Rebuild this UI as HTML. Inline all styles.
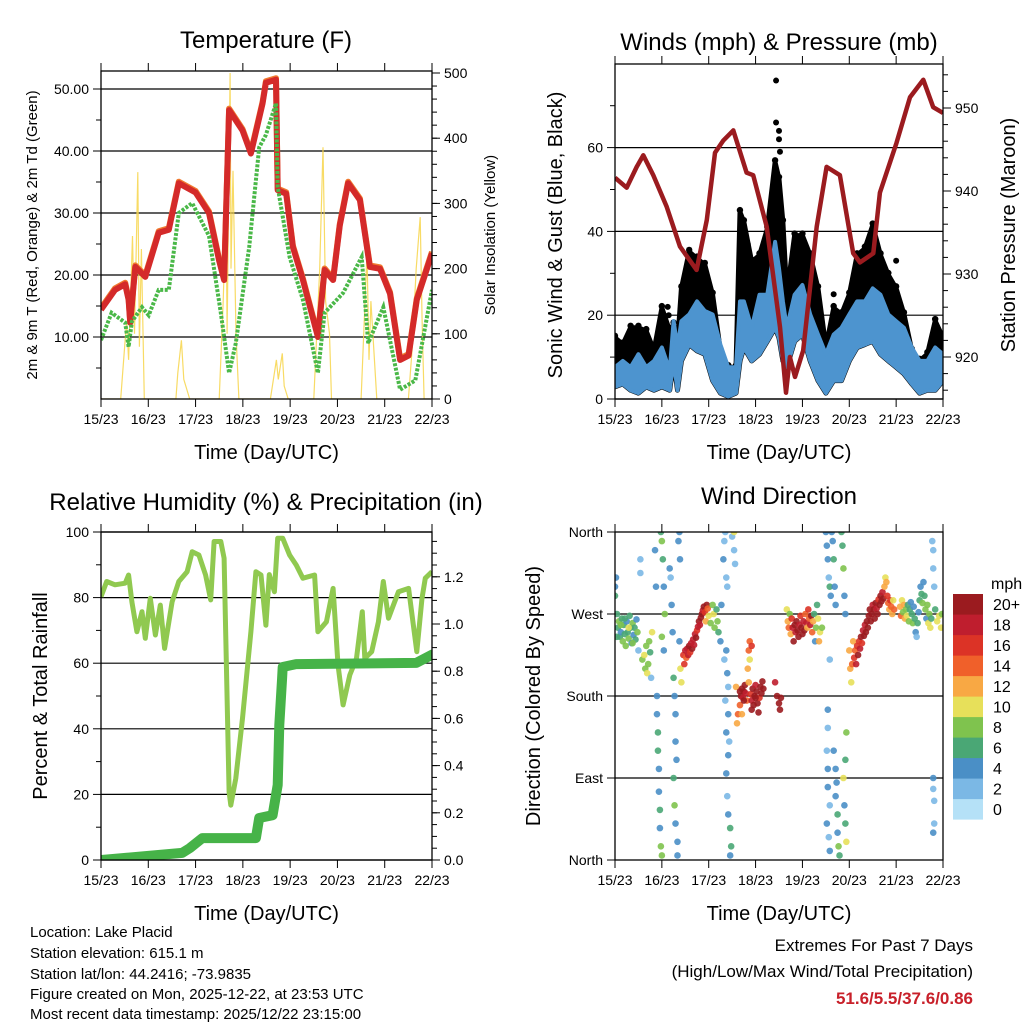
<!DOCTYPE html>
<html><head><meta charset="utf-8"><style>
html,body{margin:0;padding:0;background:#fff;}
svg{display:block;font-family:"Liberation Sans",sans-serif;}
</style></head><body>
<svg id="chart" width="1024" height="1024" viewBox="0 0 1024 1024" xmlns="http://www.w3.org/2000/svg">
<defs>
<clipPath id="c1"><rect x="101" y="71" width="331" height="328"/></clipPath>
<clipPath id="c2"><rect x="615" y="64" width="328" height="335"/></clipPath>
<clipPath id="c3"><rect x="101" y="532" width="331" height="328"/></clipPath>
<clipPath id="c4"><rect x="615" y="532" width="328" height="328"/></clipPath>
</defs>
<text x="266" y="48" font-size="24" text-anchor="middle">Temperature (F)</text>
<text x="779" y="50" font-size="24" text-anchor="middle">Winds (mph) &amp; Pressure (mb)</text>
<text x="266" y="510" font-size="24" text-anchor="middle">Relative Humidity (%) &amp; Precipitation (in)</text>
<text x="779" y="504" font-size="24" text-anchor="middle">Wind Direction</text>
<g font-size="15">
<text x="30" y="937">Location: Lake Placid</text>
<text x="30" y="958">Station elevation: 615.1 m</text>
<text x="30" y="979">Station lat/lon: 44.2416; -73.9835</text>
<text x="30" y="999">Figure created on Mon, 2025-12-22, at 23:53 UTC</text>
<text x="30" y="1019">Most recent data timestamp: 2025/12/22 23:15:00</text>
</g>
<g font-size="17" text-anchor="end">
<text x="973" y="951">Extremes For Past 7 Days</text>
<text x="973" y="977">(High/Low/Max Wind/Total Precipitation)</text>
<text x="973" y="1004" fill="#c8202a" font-weight="bold">51.6/5.5/37.6/0.86</text>
</g>
</svg>
<script>
// ---- data ----
const dayLabels=["15/23","16/23","17/23","18/23","19/23","20/23","21/23","22/23"];
const tempHours=[0,7.1,12.3,14,14.8,17.4,22.5,29.3,34.4,39.5,48,54.8,59.9,62.5,65,71.8,76.1,82,83.7,88.8,89.7,94,97.4,102.5,110.1,113.5,117.8,121.2,125.4,131.4,136.5,141.6,146.7,151.8,156.1,160.3,168];
const tempVals=[14.4,17.6,18.5,16,12.3,21.3,19.7,26.8,27.3,34.8,33.3,30,22.4,19.2,46.6,43.3,39.6,47.7,51,51.5,33.7,33.1,24.5,19.2,10,20.8,19.2,28,34.8,32.1,21.3,21,17,6.3,7,16,23.5];
const dewHours=[0,5.4,12.3,14,15.7,20.8,24.2,29.3,34.4,39.5,46.3,54.8,60.8,65,68.4,75.2,80.3,83.7,88.8,89.7,95.7,102.5,110.1,113.5,122.9,132.3,135.6,143.3,146.7,151.8,159.5,168];
const dewVals=[9.5,13.9,12.3,8.4,12.5,14.8,13.5,17.6,17.6,30,31.6,26.3,13.9,4.2,9,24.5,40.6,42.6,47.7,34.2,22.9,16,4.2,13.9,17.1,22.9,9,14.8,9.5,1.5,3,17.6];
const solarHours=[0,10,13,14,16,17,18.7,19.5,20.5,22,38,39,40.8,42,45,60,62,63.5,64,65.5,66,67,68.5,70,86,89,90,92,93,95,108,111,112.7,114,116,117,132,135,136,137,140,156,158,160,162,163,164,168];
const solarVals=[0,0,120,60,250,100,348,80,230,0,0,40,90,30,0,0,150,300,100,500,200,350,100,0,0,60,30,70,20,0,0,200,386,150,100,0,0,225,60,150,0,0,80,200,279,120,0,0];
const windHours=[0,4,8,12,16,20,24,28,30,32,34,38,42,46,50,54,58,62,64,66,70,74,78,82,84,86,88,92,96,100,104,108,112,116,120,124,128,132,136,140,144,148,152,156,160,164,168];
const windLow=[2.9,3.6,2.1,1.4,2.9,2.1,2.9,2.1,9.1,2.1,9.1,13,11.5,10.7,4.4,1.4,0.6,1.4,9.1,12.3,9.1,10.7,13.8,17,14.6,9.1,7.6,13.8,15.4,9.1,4.4,1.4,4.4,4.4,9.1,12.3,13,13.8,10.7,9.1,7.6,6,3.6,1.4,2.1,2.1,4.4];
const windHigh=[7.6,9.1,7.6,10.7,7.6,9.1,12.3,6.8,18.6,12.3,18.6,20.2,23.3,21,20.2,13,7.6,7.6,23.3,23.3,17,24.9,24.9,37.5,31.2,23.3,17,24.9,27.2,20.2,15.4,10.7,15.4,17,20.2,23.3,23.3,26.4,24.9,20.2,18.6,17,12.3,9.1,9.1,12.3,10.7];
const gustVals=[14.6,13,17,17,16.2,11.5,21.7,16.2,17.8,13,26.4,35.1,33.5,32,24.9,11.5,7.6,7.6,44.6,42.2,32.7,34.3,40.6,56.5,52.5,42.2,24.9,39,39,34.3,26.4,12.3,21.7,20.2,24.9,34.3,35.9,41.4,34.3,29.6,26.4,20.2,11.5,9.1,10.7,18.6,14.6];
const gustOutHours=[82.5,82.5,84,84,84.5,27,27.5,68,112,144];
const gustOutVals=[76,66,64,62,59,22,20,37,25,33];
const presHours=[0,6,11.1,14.5,19.6,26.5,33.3,41.8,47,51.2,55.5,60.6,67.4,70.8,77.7,84.5,87.6,89.6,92.2,96.4,103.3,108.4,115.2,122,125.5,132.3,135.7,144.2,151.1,157.9,163,168];
const presVals=[941.6,940.4,942.9,944.3,941.9,938.1,933.3,930.5,936.5,944.6,946.1,947.3,942.2,941.9,935.7,923.6,915.7,920,917.6,920.8,935.7,942.9,941.9,932.5,931.4,932.5,939.8,945.8,951.3,953.4,950.1,949.4];
const rhHours=[0,2.9,7.1,12.3,14,15.7,18.2,20.8,22.5,25,27.6,30.1,32.3,36.1,39.5,43.7,46.3,49.7,53.1,55.7,57.4,60.8,62.5,65,65.9,68.4,71.8,76.1,78.6,81.2,83.7,85.4,88,89.7,92.2,95.7,99.1,102.5,108.4,110.1,114.4,117.8,120.3,122.9,126.3,129.7,132.6,133.9,137.4,140.8,143.3,145.9,148.4,151,156.1,160.3,162.9,164.6,168];
const rhVals=[80.3,84.9,83.9,84.4,86.9,78.7,69.6,75.7,67.6,79.8,68.6,77.7,64.5,78.7,84.9,87.9,94,93,86.9,79.3,97.1,97.1,92,20.8,16.7,24.9,43.2,69.6,87.9,86.9,71.6,87,81.8,98.1,98.1,93,89.9,85.9,86.9,69.6,72.6,82.8,59.5,47.3,56.4,61.5,75.7,61.5,63.5,72.6,84.9,73.7,77.7,81.8,82.8,63.5,79.8,85.9,87.9];
const precipHours=[0,41.2,45,51.4,78.6,80.3,87.1,89.7,90.5,91.9,92.2,99,160,168];
const precipVals=[0,0.03,0.05,0.093,0.093,0.178,0.19,0.318,0.572,0.77,0.818,0.83,0.835,0.87];
const dirPts=[[0,300,3],[0,290,5],[0.5,310,4],[1,270,6],[1.5,255,5],[2,262,7],[2.5,245,6],[3,250,4],[3.5,265,6],[4,240,7],[4.5,258,5],[5,248,6],[5.5,235,8],[6,262,4],[6.5,250,6],[7,243,8],[7.5,268,5],[8,255,6],[8.5,238,4],[9,260,7],[9.5,247,3],[10,255,5],[10.5,242,6],[11,264,4],[11.5,250,8],[12,230,2],[1,245,5],[3,258,8],[5,265,6],[7,255,9],[9,238,7],
[13,330,1],[13,315,1],[14,220,8],[15,225,9],[15.5,210,8],[16,235,7],[16.5,205,9],[17,215,7],[17.5,240,8],[18,228,6],[18.5,200,1],[19,250,10],
[20.5,340,4],[21,300,4],[21.5,180,4],[21.5,160,3],[22,140,5],[22,120,6],[22.5,100,4],[22.5,75,3],[23,55,5],[23,35,3],[23.5,15,8],[24,5,7],[23.5,360,6],[24,350,7],[24.5,330,5],[25,300,4],[25.5,270,7],[24,245,7],[25,230,4],
[28,320,3],[28.5,310,2],[29,280,4],[29.5,250,4],[30,200,6],[30.5,180,4],[31,160,4],[31,130,3],[31.5,110,4],[30,90,5],[30.5,60,7],[31,40,3],[32,20,4],[32,5,4],[32.5,350,4],[33,360,4],[33.3,330,4],[33,240,4],[33.5,210,9],[34,195,10],
[35,225,16],[35.5,215,16],[36,230,17],[36.5,222,14],[37,232,18],[37.5,225,17],[38,235,20],[38.5,228,16],[39,238,18],[39.5,232,20],[40,242,17],[40.5,236,18],[41,248,18],[41.5,244,20],[42,252,16],[42.5,256,18],[43,262,20],[43.5,258,17],[44,266,20],[44.5,270,19],[45,274,18],[45.5,278,20],[46,272,16],[46.5,262,11],[47,280,20],[47.5,276,14],[48,268,10],
[49,260,8],[50,280,8],[50.5,270,9],[51,255,7],[52,275,6],[52.5,262,8],[53,250,5],[54,240,4],[54.5,280,4],
[55.5,330,3],[56,350,1],[56.5,360,2],[57,310,2],[57.5,300,1],[57,230,3],[56,220,1],[57.5,205,3],[58,190,1],[56.5,175,2],[58,160,4],[57,140,4],[58.5,130,2],[58,115,3],[57,95,4],[57.5,70,2],[58,50,3],[59,35,5],[59.5,15,6],[59,5,4],[60,355,1],[61,340,2],[61.5,325,2],[61,360,10],[62,190,12],[62.5,150,12],[63,160,14],
[64,185,20],[64.5,180,20],[65,188,20],[65.5,178,18],[66,185,20],[66.5,192,20],[67,183,18],[67.5,175,14],[68,210,12],[68.5,230,14],[69,220,10],[68.5,195,12],[69.5,182,16],[70,175,18],[70.5,188,20],[71,170,20],[71.5,180,20],[72,192,18],[72.5,185,20],[73,172,20],[73.5,162,20],[74,178,16],[74.5,190,20],[75,183,20],[75.5,196,20],[76,188,20],[69,240,14],[70,235,16],[65,160,12],[64,170,14],[66,175,20],[72,178,20],[70,165,20],
[82,195,18],[83,180,20],[84,172,20],[84.5,165,20],[85,178,20],
[88,275,10],[88.5,262,12],[89,255,14],[89.5,270,8],[90,248,12],[90.5,265,16],[91,255,18],[91.5,240,20],[92,258,20],[92.5,250,18],[93,262,20],[93.5,252,20],[94,245,20],[94.5,258,18],[95,268,16],[95.5,255,20],[96,248,20],[96.5,262,18],[97,252,20],[97.5,270,14],[98,260,18],[98.5,255,12],[99,275,16],[99.5,265,14],[100,258,18],[100.5,268,20],[101,250,14],[101.5,262,12],[102,270,6],[102.5,240,4],[103,255,8],[103.5,280,6],[104,265,10],[104.5,240,11],[105,250,9],[106,255,7],
[108,360,4],[108.5,345,3],[109,330,3],[109.5,310,2],[110,300,6],[110.5,290,4],[110,220,2],[109,165,4],[109,145,2],[108.5,120,2],[109,100,3],[109,80,4],[110,60,2],[108.5,40,3],[109.5,25,2],[110,10,3],[111,360,4],[111.5,350,4],[112,330,5],[112.5,300,4],[113,280,4],[112,120,3],[113,100,4],[113.5,85,3],[113,70,4],[114,50,5],[114,30,4],[114.5,15,8],[115,5,6],[116,360,6],[116.5,345,6],[117,320,8],[117.5,290,4],[118,270,3],[118.5,140,7],[118,110,6],[117,90,9],[117.5,60,4],[118,40,6],[118.5,20,10],
[120,230,12],[120.5,210,11],[121,195,10],[121.5,215,14],[122,240,12],[122.5,222,16],[123,230,14],[123.5,215,18],[124,235,16],[124.5,225,20],[125,240,16],[125.5,232,18],[126,245,20],[126.5,238,16],[127,252,18],[127.5,246,20],[128,258,18],[128.5,250,20],[129,262,20],[129.5,255,20],[130,268,20],[130.5,275,20],[131,262,20],[131.5,270,20],[132,280,18],[132.5,275,20],[133,265,20],[133.5,282,20],[134,276,18],[134.5,270,20],[135,286,16],[135.5,280,20],[136,290,20],[136.5,284,20],[137,294,18],[137.5,287,20],[138,300,11],[138.5,310,10],[139,305,12],[139.5,290,16],[140,282,14],[140.5,275,12],[141,285,16],[141.5,278,14],[142,270,12],[142.5,285,10],[143,275,14],
[146,278,11],[146.5,268,13],[147,285,10],[147.5,272,8],[148,280,12],[148.5,265,11],[149,275,7],[149.5,268,10],[150,280,6],[150.5,262,8],[151,275,5],[151.5,283,4],[152,270,6],[152.5,260,7],[153,278,3],[153.5,265,5],[154,250,4],[154.5,245,2],[155,260,6],[155.5,272,4],[156,285,6],[156.5,300,4],[157,292,5],[157.5,282,7],[158,305,4],[158.5,290,6],[159,275,7],[159.5,265,4],[160,280,8],[160.5,260,10],[161,270,7],[161.5,255,9],[162,265,5],[162.5,350,2],[163,340,2],[163,320,2],[163.5,300,2],[163,90,3],[163,78,2],[163.5,65,2],[163.5,40,2],[163,30,3],[164,275,6],[165,262,9],[166,268,10],[167,255,10],[167.5,270,8]];
const speedColors=["#b5e1f7","#7bb8e5","#4a8fc6","#4aa775","#7fc34e","#e7e05a","#f8a844","#f0602a","#dc3326","#bf1e2e","#9b1b1f"];
const speedLabels=["0","2","4","6","8","10","12","14","16","18","20+"];

// ---- helpers ----
const NS="http://www.w3.org/2000/svg";
const svg=document.getElementById('chart');
function mk(tag,attrs,parent){const e=document.createElementNS(NS,tag);for(const k in attrs)e.setAttribute(k,attrs[k]);(parent||svg).appendChild(e);return e;}
function txt(x,y,s,size,anchor,parent){const t=mk('text',{x:x,y:y,'font-size':size,'text-anchor':anchor},parent);t.textContent=s;return t;}
function pts(hs,vs,fx,fy){return hs.map((h,i)=>fx(h).toFixed(1)+','+fy(vs[i]).toFixed(1)).join(' ');}

function frame(L,T,R,B,name){
  const g=mk('g',{});
  
  
  for(let d=0;d<=7;d++){
    const x=L+(R-L)*d/7;
    const tk=mk('line',{x1:x,y1:T-8,x2:x,y2:T,stroke:'#000','stroke-width':1},g);
    
    const tb=mk('line',{x1:x,y1:B,x2:x,y2:B+8,stroke:'#000','stroke-width':1},g);
    
    const lb=txt(x,B+25,dayLabels[d],14,'middle',g);
    
  }
  const xt=txt((L+R)/2,B+60,'Time (Day/UTC)',20,'middle',g);
  
  return g;
}
function border(L,T,R,B,name){
  const r=mk('rect',{x:L,y:T,width:R-L,height:B-T,fill:'none',stroke:'#000','stroke-width':1.3});
  
  
}
function yAxis(g,side,X,ticks,labels,fy,minors,gridL,gridR){
  ticks.forEach((v,i)=>{
    const y=fy(v);
    const dx=side==='L'?-8:8;
    mk('line',{x1:X,y1:y,x2:X+dx,y2:y,stroke:'#000'},g);
    if(labels[i]!==''){const t=txt(side==='L'?X-12:X+12,y+5,labels[i],14,side==='L'?'end':'start',g);
    }
    if(gridL!==undefined){const gl=mk('line',{x1:gridL,y1:y,x2:gridR,y2:y,stroke:'#000','stroke-width':1.2},g);
    }
  });
  minors.forEach(v=>{const y=fy(v);mk('line',{x1:X,y1:y,x2:X+(side==='L'?-5:5),y2:y,stroke:'#000'},g);});
}
function range(a,b,s){const r=[];for(let v=a;v<=b+1e-9;v+=s)r.push(+v.toFixed(4));return r;}

// ===== Panel 1 Temperature =====
const x1=h=>101+h*331/168, yT=v=>399-v*6.2, yS=v=>399-v*0.652;
{
const g=frame(101,71,432,399,'temperature');
yAxis(g,'L',101,[10,20,30,40,50],['10.00','20.00','30.00','40.00','50.00'],yT,[5,15,25,35,45],101,432);
yAxis(g,'R',432,[0,100,200,300,400,500],['0','100','200','300','400','500'],yS,range(20,480,20),undefined);
const p=mk('g',{'clip-path':'url(#c1)'});
const sol=mk('polyline',{points:pts(solarHours,solarVals,x1,yS),fill:'none',stroke:'#f7d54a','stroke-width':1.2,opacity:0.85},p);


const t9=mk('polyline',{points:pts(tempHours,tempVals,x1,v=>yT(v)-1.5),fill:'none',stroke:'#f07a30','stroke-width':6,'stroke-linejoin':'round'},p);


const t2=mk('polyline',{points:pts(tempHours,tempVals,x1,yT),fill:'none',stroke:'#d42a2a','stroke-width':6,'stroke-linejoin':'round'},p);


const td=mk('polyline',{points:pts(dewHours,dewVals,x1,yT),fill:'none',stroke:'#4ab848','stroke-width':4,'stroke-dasharray':'3 1.5'},p);


border(101,71,432,399,'temperature');
const yl=mk('text',{x:0,y:0,'font-size':15,'text-anchor':'middle',transform:'translate(37,235) rotate(-90)'});
yl.textContent='2m & 9m T (Red, Orange) & 2m Td (Green)';

const yr=mk('text',{x:0,y:0,'font-size':15,'text-anchor':'middle',transform:'translate(495,235) rotate(-90)'});
yr.textContent='Solar Insolation (Yellow)';

}

// ===== Panel 2 Winds =====
const x2=h=>615+h*328/168, yW=v=>399-v*4.19, yP=p=>357-(p-920)*8.3;
{
const g=frame(615,64,943,399,'winds');
yAxis(g,'L',615,[0,20,40,60],['0','20','40','60'],yW,[10,30,50,70],615,943);
yAxis(g,'R',943,[920,930,940,950],['920','930','940','950'],yP,range(916,954,2),undefined);
const p=mk('g',{'clip-path':'url(#c2)'});
const up=windHours.map((h,i)=>x2(h).toFixed(1)+','+yW(gustVals[i]).toFixed(1));
const lo=windHours.map((h,i)=>x2(h).toFixed(1)+','+yW(windLow[i]).toFixed(1)).reverse();
const ga=mk('polygon',{points:up.concat(lo).join(' '),fill:'#000',stroke:'#000','stroke-width':5,'stroke-linejoin':'round'},p);


windHours.forEach((h,i)=>{
  const c=mk('circle',{cx:x2(h),cy:yW(gustVals[i])-2,r:3.2,fill:'#000'},p);
  
});
gustOutHours.forEach((h,i)=>{
  const c=mk('circle',{cx:x2(h),cy:yW(gustOutVals[i]),r:3,fill:'#000'},p);
  
});
const wu=windHours.map((h,i)=>x2(h).toFixed(1)+','+yW(windHigh[i]).toFixed(1));
const wa=mk('polygon',{points:wu.concat(lo).join(' '),fill:'#4d94cf',stroke:'#4d94cf','stroke-width':4,'stroke-linejoin':'round'},p);


const pr=mk('polyline',{points:pts(presHours,presVals,x2,yP),fill:'none',stroke:'#9b1b1f','stroke-width':4.5,'stroke-linejoin':'round'},p);


border(615,64,943,399,'winds');
const yl=mk('text',{x:0,y:0,'font-size':20,'text-anchor':'middle',transform:'translate(562,235) rotate(-90)'});
yl.textContent='Sonic Wind & Gust (Blue, Black)';

const yr=mk('text',{x:0,y:0,'font-size':20,'text-anchor':'middle',transform:'translate(1015,235) rotate(-90)'});
yr.textContent='Station Pressure (Maroon)';

}

// ===== Panel 3 RH & precip =====
const x3=h=>101+h*331/168, yR=v=>860-v*3.28, yPr=v=>860-v*236;
{
const g=frame(101,532,432,860,'humidity');
yAxis(g,'L',101,[0,20,40,60,80,100],['0','20','40','60','80','100'],yR,[10,30,50,70,90],101,432);
yAxis(g,'R',432,[0,0.2,0.4,0.6,0.8,1.0,1.2],['0.0','0.2','0.4','0.6','0.8','1.0','1.2'],yPr,range(0.05,1.35,0.05),undefined);
const p=mk('g',{'clip-path':'url(#c3)'});
const rh=mk('polyline',{points:pts(rhHours,rhVals,x3,yR),fill:'none',stroke:'#90c950','stroke-width':5,'stroke-linejoin':'round'},p);


const pc=mk('polyline',{points:pts(precipHours,precipVals,x3,yPr),fill:'none',stroke:'#46b348','stroke-width':10,'stroke-linejoin':'round','stroke-linecap':'round'},p);


border(101,532,432,860,'humidity');
const yl=mk('text',{x:0,y:0,'font-size':20,'text-anchor':'middle',transform:'translate(47,696) rotate(-90)'});
yl.textContent='Percent & Total Rainfall';

}

// ===== Panel 4 Wind direction =====
const x4=h=>615+h*328/168, yD=d=>860-d*328/360;
{
const g=frame(615,532,943,860,'wind-direction');
yAxis(g,'L',615,[0,90,180,270,360],['North','East','South','West','North'],yD,[],undefined);
[90,180,270].forEach(d=>{const gl=mk('line',{x1:615,y1:yD(d),x2:943,y2:yD(d),stroke:'#000','stroke-width':1.2},g);
});
const p=mk('g',{'clip-path':'url(#c4)'});
dirPts.forEach(pt=>{
  const idx=Math.min(10,Math.round(pt[2]/2));
  const c=mk('circle',{cx:x4(pt[0]),cy:yD(pt[1]),r:3.3,fill:speedColors[idx],opacity:0.9},p);
  
  
});
border(615,532,943,860,'wind-direction');
const yl=mk('text',{x:0,y:0,'font-size':20,'text-anchor':'middle',transform:'translate(540,696) rotate(-90)'});
yl.textContent='Direction (Colored By Speed)';

const cb=mk('g',{});


speedColors.forEach((c,i)=>{
  const y=594+(10-i)*20.5;
  const r=mk('rect',{x:953,y:y,width:30,height:20.6,fill:c},cb);
  
  const t=txt(993,y+16,speedLabels[i],16,'start',cb);
  
});
const mph=txt(991,589,'mph',16,'start',cb);

}
</script>
</body></html>
